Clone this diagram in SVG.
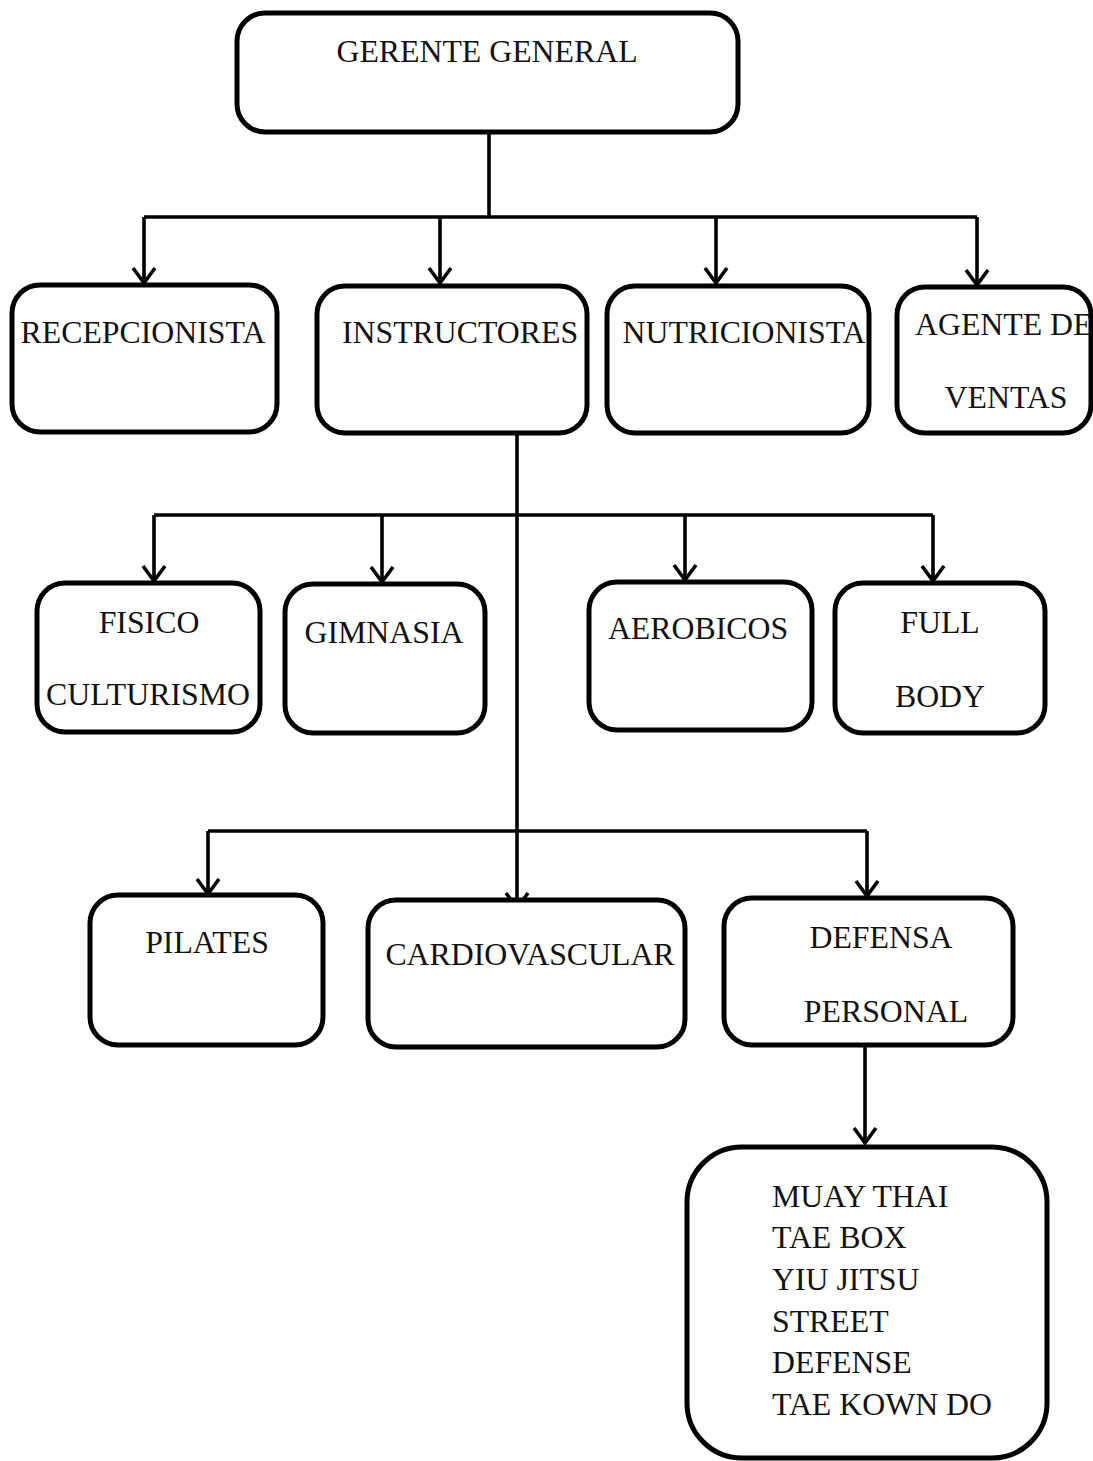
<svg xmlns="http://www.w3.org/2000/svg" width="1093" height="1461" viewBox="0 0 1093 1461">
<style>
.box{fill:#fff;stroke:#000;stroke-width:5}
.t{font-family:"Liberation Serif","Times New Roman",serif;font-size:31.8px;fill:#111}
.c{text-anchor:middle}
.ln{fill:none;stroke:#000;stroke-width:3.6}
</style>
<defs>
<marker id="arr" markerUnits="userSpaceOnUse" orient="auto" viewBox="-20 -15 25 30" markerWidth="25" markerHeight="30" refX="0" refY="0">
<path d="M-15,-11 L0,0 L-15,11" fill="none" stroke="#000" stroke-width="3.6"/>
</marker>
</defs>
<rect width="1093" height="1461" fill="#fff"/>
<g id="connectors">
<path class="ln" d="M489,132 V217 M144,217 H977"/>
<path class="ln" d="M144,217 V283" marker-end="url(#arr)"/>
<path class="ln" d="M440,217 V283" marker-end="url(#arr)"/>
<path class="ln" d="M716,217 V283" marker-end="url(#arr)"/>
<path class="ln" d="M977,217 V285" marker-end="url(#arr)"/>
<path class="ln" d="M154,515 H933"/>
<path class="ln" d="M154,515 V581" marker-end="url(#arr)"/>
<path class="ln" d="M382,515 V582" marker-end="url(#arr)"/>
<path class="ln" d="M685,515 V580" marker-end="url(#arr)"/>
<path class="ln" d="M933,515 V581" marker-end="url(#arr)"/>
<path class="ln" d="M208,831 H867"/>
<path class="ln" d="M517,433 V908" marker-end="url(#arr)"/>
<path class="ln" d="M208,831 V894" marker-end="url(#arr)"/>
<path class="ln" d="M867,831 V896" marker-end="url(#arr)"/>
<path class="ln" d="M865,1045 V1143" marker-end="url(#arr)"/>
</g>
<g id="gerente"><rect class="box" x="237" y="13" width="501" height="119" rx="28"/><text class="t c" x="487" y="62">GERENTE GENERAL</text></g>
<g id="recepcionista"><rect class="box" x="12" y="285" width="265" height="147" rx="28"/><text class="t c" x="143" y="343">RECEPCIONISTA</text></g>
<g id="instructores"><rect class="box" x="317" y="286" width="270" height="147" rx="28"/><text class="t c" x="460" y="343">INSTRUCTORES</text></g>
<g id="nutricionista"><rect class="box" x="607" y="286" width="262" height="147" rx="28"/><text class="t c" x="744" y="343">NUTRICIONISTA</text></g>
<g id="agente"><rect class="box" x="897" y="287" width="194" height="146" rx="28"/><text class="t" x="915" y="335">AGENTE DE</text><text class="t c" x="1006" y="408">VENTAS</text></g>
<g id="fisico"><rect class="box" x="37" y="583" width="223" height="149" rx="28"/><text class="t c" x="149" y="633">FISICO</text><text class="t c" x="148" y="705">CULTURISMO</text></g>
<g id="gimnasia"><rect class="box" x="285" y="584" width="200" height="149" rx="28"/><text class="t c" x="384" y="643">GIMNASIA</text></g>
<g id="aerobicos"><rect class="box" x="589" y="582" width="223" height="148" rx="28"/><text class="t c" x="698" y="639">AEROBICOS</text></g>
<g id="fullbody"><rect class="box" x="835" y="583" width="210" height="150" rx="28"/><text class="t c" x="940" y="633">FULL</text><text class="t c" x="940" y="707">BODY</text></g>
<g id="pilates"><rect class="box" x="90" y="895" width="233" height="150" rx="28"/><text class="t c" x="207" y="953">PILATES</text></g>
<g id="cardiovascular"><rect class="box" x="368" y="900" width="317" height="147" rx="28"/><text class="t c" x="530" y="965">CARDIOVASCULAR</text></g>
<g id="defensa"><rect class="box" x="724" y="898" width="289" height="147" rx="28"/><text class="t c" x="881" y="948">DEFENSA</text><text class="t c" x="886" y="1022">PERSONAL</text></g>
<g id="artes"><rect class="box" x="687" y="1147" width="360" height="311" rx="55"/>
<text class="t" x="772" y="1207">MUAY THAI</text><text class="t" x="772" y="1248">TAE BOX</text><text class="t" x="772" y="1290">YIU JITSU</text><text class="t" x="772" y="1332">STREET</text><text class="t" x="772" y="1373">DEFENSE</text><text class="t" x="772" y="1415">TAE KOWN DO</text></g>
</svg>
